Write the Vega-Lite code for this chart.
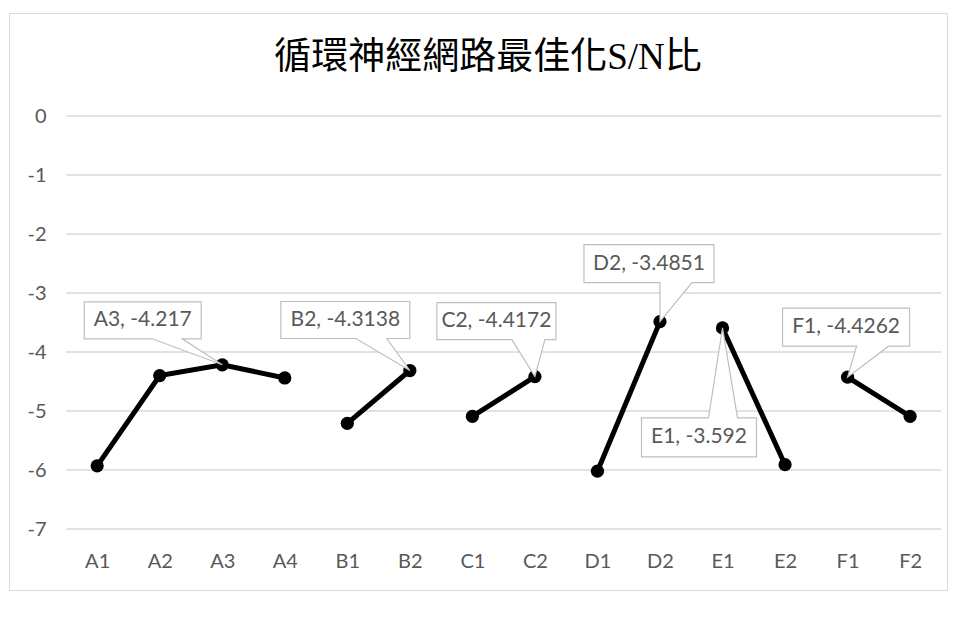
{
  "$schema": "https://vega.github.io/schema/vega-lite/v6.json",
  "autosize": "none",
  "width": 938,
  "height": 577,
  "padding": {"left": 9, "top": 13, "right": 12, "bottom": 30},
  "background": "#ffffff",
  "title": {
    "text": "循環神經網路最佳化S/N比",
    "font": "Liberation Serif, Noto Sans CJK TC",
    "fontSize": 37,
    "fontWeight": "normal",
    "color": "#000000",
    "anchor": "middle",
    "frame": "group",
    "baseline": "top",
    "offset": 0,
    "dx": 10,
    "dy": 64
  },
  "config": {
    "view": {"stroke": "#d9d9d9", "strokeWidth": 1},
    "font": "Lato",
    "axis": {
      "domain": false,
      "ticks": false,
      "grid": false,
      "labelFont": "Lato",
      "labelFontSize": 20,
      "labelColor": "#595959"
    }
  },
  "datasets": {
    "sn": [
      {"cat": "A1", "grp": "A", "v": -5.93},
      {"cat": "A2", "grp": "A", "v": -4.40},
      {"cat": "A3", "grp": "A", "v": -4.217},
      {"cat": "A4", "grp": "A", "v": -4.44},
      {"cat": "B1", "grp": "B", "v": -5.21},
      {"cat": "B2", "grp": "B", "v": -4.3138},
      {"cat": "C1", "grp": "C", "v": -5.09},
      {"cat": "C2", "grp": "C", "v": -4.4172},
      {"cat": "D1", "grp": "D", "v": -6.02},
      {"cat": "D2", "grp": "D", "v": -3.4851},
      {"cat": "E1", "grp": "E", "v": -3.592},
      {"cat": "E2", "grp": "E", "v": -5.91},
      {"cat": "F1", "grp": "F", "v": -4.4262},
      {"cat": "F2", "grp": "F", "v": -5.09}
    ],
    "grid": [
      {"g": 0}, {"g": -1}, {"g": -2}, {"g": -3},
      {"g": -4}, {"g": -5}, {"g": -6}, {"g": -7}
    ]
  },
  "data": {"name": "sn"},
  "encoding": {
    "x": {
      "field": "cat",
      "type": "nominal",
      "scale": {"type": "point", "padding": 1.0365, "align": 0.705},
      "axis": {"title": null, "labelAngle": 0, "offset": -61, "labelPadding": 22}
    },
    "y": {
      "field": "v",
      "type": "quantitative",
      "scale": {"domain": [-8.0339, 1.7458], "nice": false, "zero": false},
      "axis": {
        "title": null,
        "values": [0, -1, -2, -3, -4, -5, -6, -7],
        "offset": -60,
        "labelPadding": 23,
        "labelExpr": "'' + datum.value"
      }
    }
  },
  "layer": [
    {
      "data": {"name": "grid"},
      "mark": {"type": "rule", "color": "#d9d9d9", "strokeWidth": 1.3, "xOffset": -31, "x2Offset": 31},
      "encoding": {
        "x": {"datum": "A1", "type": "nominal"},
        "x2": {"datum": "F2"},
        "y": {"field": "g", "type": "quantitative"}
      }
    },
    {
      "mark": {"type": "line", "color": "#000000", "strokeWidth": 5},
      "encoding": {"detail": {"field": "grp"}}
    },
    {
      "mark": {"type": "circle", "color": "#000000", "size": 175, "opacity": 1}
    },
    {
      "transform": [
        {"filter": "datum.cat == 'A3'"},
        {"calculate": "datum.cat + ', ' + datum.v", "as": "label"}
      ],
      "layer": [
        {"mark": {"type": "point", "shape": "M-138,-63H-21V-26H-40L0,0L-70,-26H-138Z", "size": 4, "filled": true, "fill": "#ffffff", "stroke": "#bfbfbf", "strokeWidth": 1.2, "opacity": 1}},
        {"mark": {"type": "text", "dx": -79.5, "dy": -44.5, "align": "center", "baseline": "middle", "font": "Lato", "fontSize": 21, "color": "#595959"}, "encoding": {"text": {"field": "label"}}}
      ]
    },
    {
      "transform": [
        {"filter": "datum.cat == 'B2'"},
        {"calculate": "datum.cat + ', ' + datum.v", "as": "label"}
      ],
      "layer": [
        {"mark": {"type": "point", "shape": "M-129,-69H0V-32H-23L0,0L-54,-32H-129Z", "size": 4, "filled": true, "fill": "#ffffff", "stroke": "#bfbfbf", "strokeWidth": 1.2, "opacity": 1}},
        {"mark": {"type": "text", "dx": -64.5, "dy": -50.5, "align": "center", "baseline": "middle", "font": "Lato", "fontSize": 21, "color": "#595959"}, "encoding": {"text": {"field": "label"}}}
      ]
    },
    {
      "transform": [
        {"filter": "datum.cat == 'C2'"},
        {"calculate": "datum.cat + ', ' + datum.v", "as": "label"}
      ],
      "layer": [
        {"mark": {"type": "point", "shape": "M-98,-74H21V-37H10L0,0L-23,-37H-98Z", "size": 4, "filled": true, "fill": "#ffffff", "stroke": "#bfbfbf", "strokeWidth": 1.2, "opacity": 1}},
        {"mark": {"type": "text", "dx": -38.5, "dy": -55.5, "align": "center", "baseline": "middle", "font": "Lato", "fontSize": 21, "color": "#595959"}, "encoding": {"text": {"field": "label"}}}
      ]
    },
    {
      "transform": [
        {"filter": "datum.cat == 'D2'"},
        {"calculate": "datum.cat + ', ' + datum.v", "as": "label"}
      ],
      "layer": [
        {"mark": {"type": "point", "shape": "M-76,-77H54V-39H32L0,0L0,-39H-76Z", "size": 4, "filled": true, "fill": "#ffffff", "stroke": "#bfbfbf", "strokeWidth": 1.2, "opacity": 1}},
        {"mark": {"type": "text", "dx": -11, "dy": -58, "align": "center", "baseline": "middle", "font": "Lato", "fontSize": 21, "color": "#595959"}, "encoding": {"text": {"field": "label"}}}
      ]
    },
    {
      "transform": [
        {"filter": "datum.cat == 'E1'"},
        {"calculate": "datum.cat + ', ' + datum.v", "as": "label"}
      ],
      "layer": [
        {"mark": {"type": "point", "shape": "M-81,90H-14L0,0L15,90H34V129H-81Z", "size": 4, "filled": true, "fill": "#ffffff", "stroke": "#bfbfbf", "strokeWidth": 1.2, "opacity": 1}},
        {"mark": {"type": "text", "dx": -23.5, "dy": 109.5, "align": "center", "baseline": "middle", "font": "Lato", "fontSize": 21, "color": "#595959"}, "encoding": {"text": {"field": "label"}}}
      ]
    },
    {
      "transform": [
        {"filter": "datum.cat == 'F1'"},
        {"calculate": "datum.cat + ', ' + datum.v", "as": "label"}
      ],
      "layer": [
        {"mark": {"type": "point", "shape": "M-65,-69H62V-31H41L0,0L9,-31H-65Z", "size": 4, "filled": true, "fill": "#ffffff", "stroke": "#bfbfbf", "strokeWidth": 1.2, "opacity": 1}},
        {"mark": {"type": "text", "dx": -1.5, "dy": -50, "align": "center", "baseline": "middle", "font": "Lato", "fontSize": 21, "color": "#595959"}, "encoding": {"text": {"field": "label"}}}
      ]
    }
  ]
}
